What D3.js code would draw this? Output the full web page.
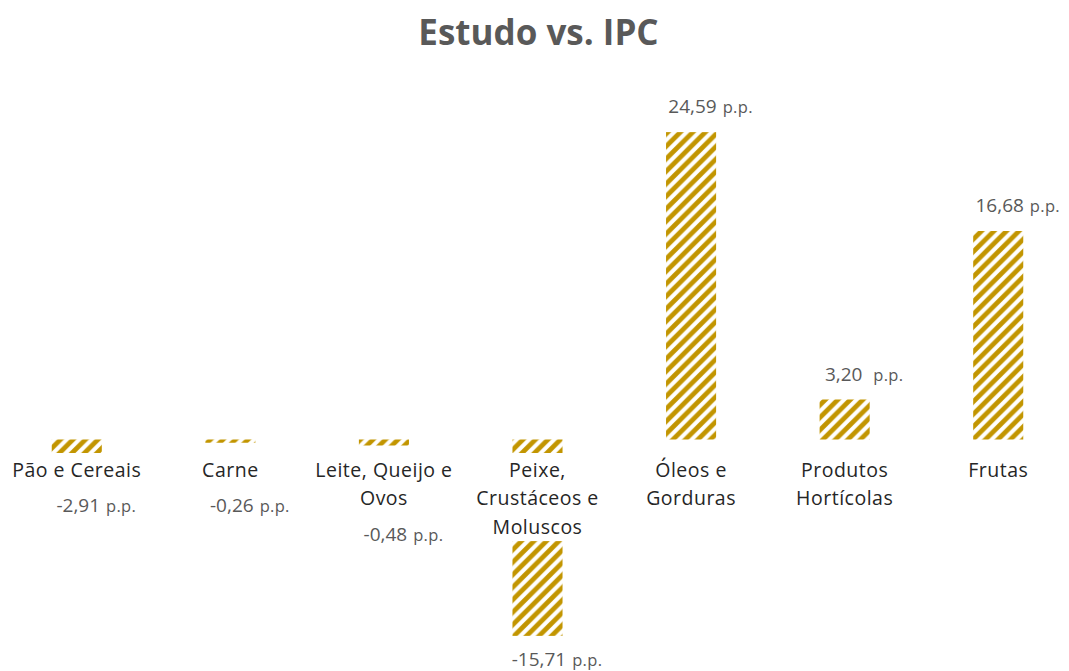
<!DOCTYPE html>
<html>
<head>
<meta charset="utf-8">
<script src="https://cdn.jsdelivr.net/npm/d3@7"></script>
<style>
  html, body { margin: 0; padding: 0; background: #fff; }
  text { font-family: "Open Sans", Lato, sans-serif; }
</style>
</head>
<body>
<div id="chart"></div>
<script>
// data
const categories = [
  'Pão e Cereais',
  'Carne',
  'Leite, Queijo e|Ovos',
  'Peixe,|Crustáceos e|Moluscos',
  'Óleos e|Gorduras',
  'Produtos|Hortícolas',
  'Frutas'
]
const values = [-2.91, -0.26, -0.48, -15.71, 24.59, 3.20, 16.68]
const valueLabels = ['-2,91', '-0,26', '-0,48', '-15,71', '24,59', '3,20 ', '16,68']
const unit = 'p.p.'
const title = 'Estudo vs. IPC'

const width = 1069
const height = 671
const gold = '#C29500'

const svg = d3.select('#chart')
  .append('svg')
  .attr('width', width)
  .attr('height', height)

// hatch fill (wide upward diagonal)
const p = 12.5
const pat = svg.append('defs').append('pattern')
  .attr('id', 'hatch')
  .attr('patternUnits', 'userSpaceOnUse')
  .attr('width', p)
  .attr('height', p)
pat.append('path')
  .attr('d', `M0,${p} L${p},0 M${-p / 4},${p / 4} L${p / 4},${-p / 4} M${p * 3 / 4},${p * 5 / 4} L${p * 5 / 4},${p * 3 / 4}`)
  .attr('stroke', gold)
  .attr('stroke-width', 4.8)

// scales
const xs = d3.scaleBand()
  .domain(categories)
  .range([0, 1075])
  .paddingInner(0.674)
  .paddingOuter(0.337)

const ys = d3.scaleLinear()
  .domain([-16, 26])
  .range([639.5, 114.5])

// title
svg.append('text')
  .attr('x', 538.5)
  .attr('y', 44.5)
  .attr('text-anchor', 'middle')
  .style('font-size', '35px')
  .style('font-weight', 'bold')
  .style('fill', '#595959')
  .text(title)

// bars
svg.append('g')
  .selectAll('rect')
  .data(categories)
  .join('rect')
  .attr('x', (d) => xs(d))
  .attr('width', xs.bandwidth())
  .attr('y', (d, i) => Math.min(ys(values[i]), ys(0)))
  .attr('height', (d, i) => Math.abs(ys(values[i]) - ys(0)))
  .attr('fill', 'url(#hatch)')

// category labels, on a white box that hides the bar beneath
const lineH = 28.7
const labelTop = ys(0) + 13.5
const cat = svg.append('g')
  .selectAll('g')
  .data(categories)
  .join('g')
  .attr('transform', (d) => `translate(${xs(d) + xs.bandwidth() / 2},${labelTop})`)

cat.append('rect')
  .attr('x', -72)
  .attr('y', 0)
  .attr('width', 144)
  .attr('height', (d) => d.split('|').length * lineH + 2)
  .attr('fill', '#fff')

cat.append('text')
  .attr('text-anchor', 'middle')
  .style('font-size', '19.5px')
  .style('letter-spacing', '0.5px')
  .style('fill', '#262626')
  .selectAll('tspan')
  .data((d) => d.split('|'))
  .join('tspan')
  .attr('x', 0)
  .attr('y', (d, i) => 23.5 + i * lineH)
  .text((d) => d)

// value labels
const boxBottom = (i) => labelTop + categories[i].split('|').length * lineH
const val = svg.append('g')
  .selectAll('text')
  .data(values)
  .join('text')
  .attr('x', (d, i) => xs(categories[i]) + xs.bandwidth() / 2 + 19.5)
  .attr('y', (d, i) => d >= 0 ? ys(d) - 19 : Math.max(boxBottom(i), ys(d)) + 30.5)
  .attr('text-anchor', 'middle')
  .style('fill', '#595959')
  .style('white-space', 'pre')

val.append('tspan')
  .style('font-size', '19px')
  .text((d, i) => valueLabels[i])
val.append('tspan')
  .attr('dx', 6)
  .style('font-size', '16.5px')
  .style('letter-spacing', '0.3px')
  .text(unit)
</script>
</body>
</html>
